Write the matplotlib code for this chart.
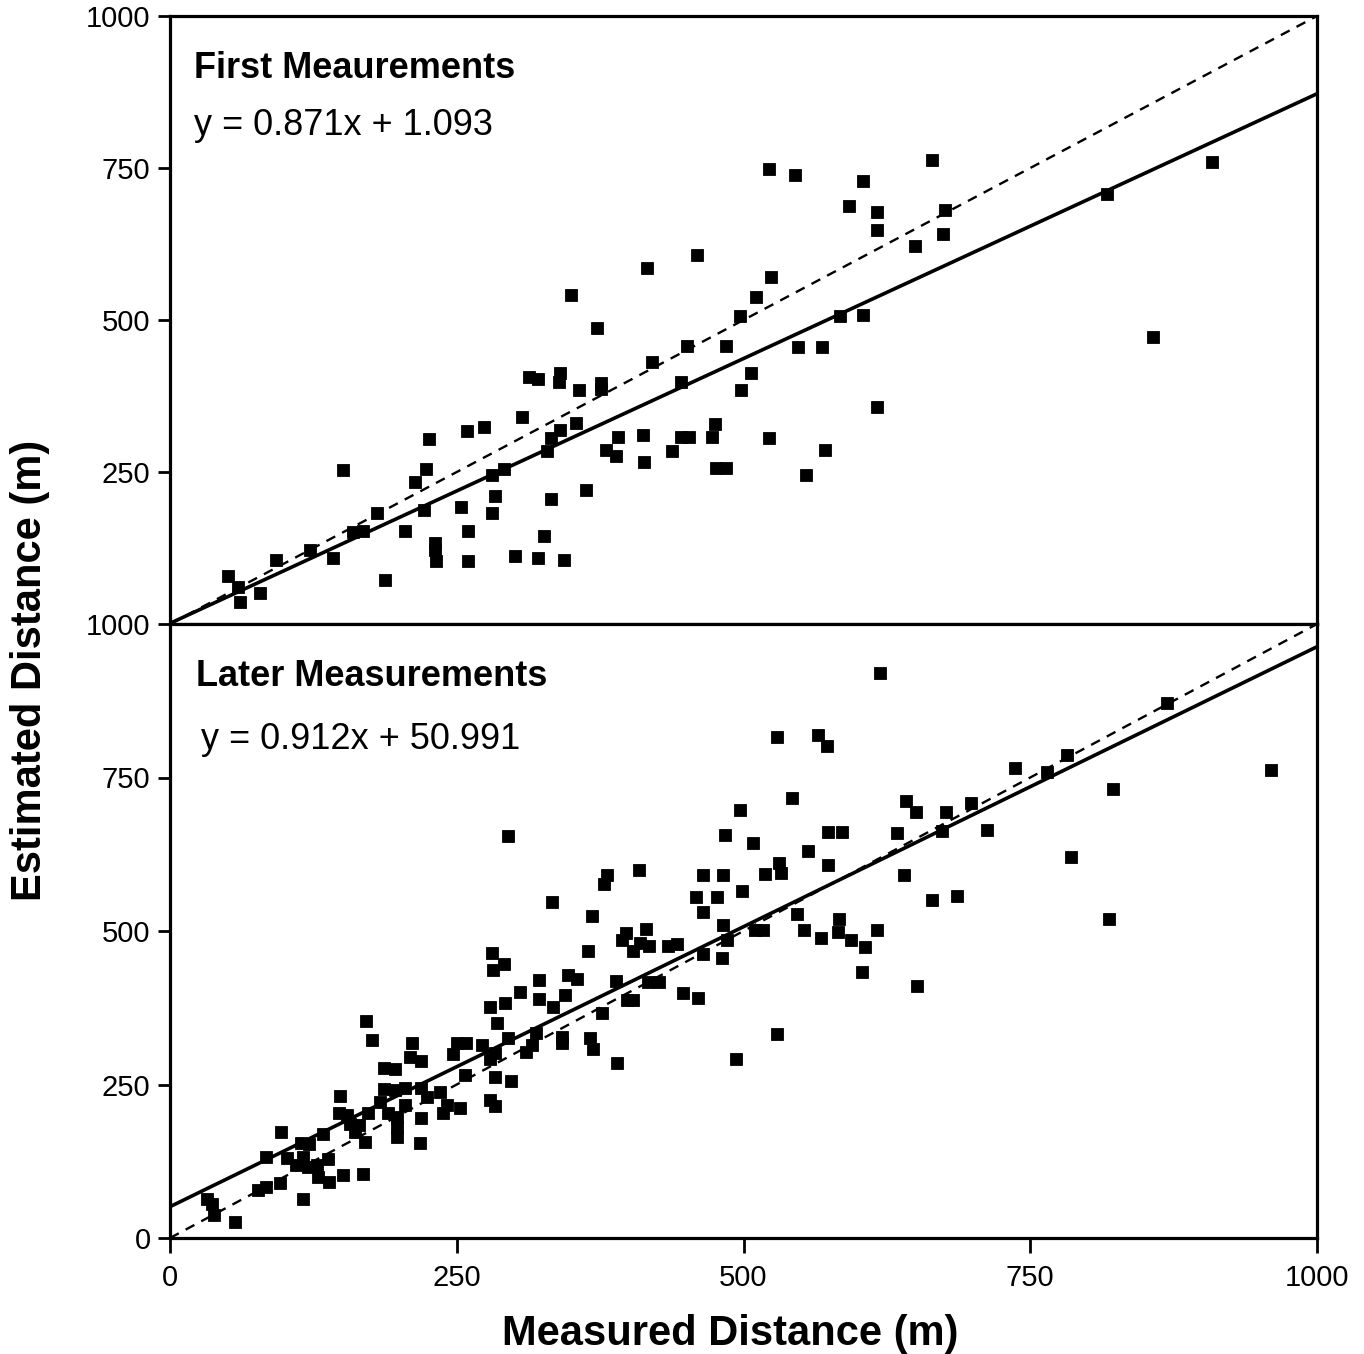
import matplotlib
matplotlib.use("Agg")
import matplotlib.pyplot as plt

plt.rcParams['font.family'] = ['Liberation Sans', 'DejaVu Sans']

# ---------------- data ----------------
first_x = [50.6, 59.3, 61, 78.5, 92.4, 122, 142, 150.8, 159.5, 168, 180.5, 187.4, 205, 213.6,
           221.4, 223, 225.8, 231, 231, 232, 253.7, 259, 259.8, 259.8, 273.8, 280.7, 283.3,
           280.7, 291, 300.8, 307, 313, 321, 321, 326, 328.7, 332, 332, 340, 339, 340, 343.5,
           349.6, 354, 356.6, 362.7, 372.3, 375.8, 375.8, 380, 389, 390.6, 412.4, 413, 415.9,
           420, 437.7, 445.5, 445.5, 452.5, 450.7, 459.5, 472.5, 475, 476, 484.7, 484.7, 497.8,
           497, 506.5, 511, 522, 522, 524, 545, 547.5, 554.5, 568.4, 571, 584, 592, 604, 604,
           616.4, 616.4, 616.4, 649.5, 664.3, 674, 675.7, 817, 857, 908.5]
first_y = [79, 61, 36, 51, 105, 122, 108.6, 253, 151, 153, 182.6, 72, 153, 233.6,
           187.5, 255, 304, 133, 122, 104, 192, 317, 153, 104, 324, 245, 210.5,
           182.6, 255, 112, 340, 406, 403, 108.6, 145, 284.5, 205.6, 306, 413, 398, 319, 105,
           541, 330.6, 385, 220, 487, 396, 386.5, 286, 276, 307.6, 311, 266.4, 585.5,
           431, 284.5, 398, 307.6, 307.6, 457, 607, 307.6, 329, 256.6, 256.6, 457, 385,
           506.6, 413, 538, 748, 306, 571, 738.5, 455.6, 245, 455.6, 286, 506.6, 687.5, 728.6, 508,
           677.6, 648, 357, 621.7, 763, 641.4, 681, 707, 472, 760]

later_x = [171, 176, 211, 209, 219, 187, 196, 187, 196, 205, 219, 224, 148, 183, 173, 147, 154,
           190, 198, 205, 219, 157, 165, 161, 198, 198, 170, 218, 97, 133, 114, 121, 84, 102,
           116, 110, 120, 128, 138, 129, 139, 151, 168, 77, 84, 96, 116, 32, 37, 38, 57,
           235.4, 241.2, 238.3, 252.8, 279, 283.3, 257.2, 283.3, 297, 250, 258, 247, 272.3,
           283.3, 279, 315.3, 310.4, 319, 295, 284.8, 279, 292, 305, 334, 322, 344.4, 322,
           346.7, 355, 341.5, 341.5, 366, 369, 377, 389.5, 389, 398, 404, 417, 426.6, 281,
           291, 282, 364.7, 367.6, 332.8, 378.4, 381.3, 397.6, 393.8, 404, 414.7, 409.8, 418,
           295,
           529, 564.7, 573, 542, 641.7, 650.4, 497, 484, 508, 574, 586, 634, 556, 531, 532.7,
           574, 518.7, 482.4, 464.4, 640, 409, 499, 458.6, 476.6, 464.4, 547, 583, 482.4,
           485.4, 510, 517, 553, 582, 568, 594, 606, 616, 603.6, 434.4, 441.8, 464.4, 481.5,
           447, 460.6, 529.5, 493.5, 651,
           619, 869, 736.7, 764.3, 781.8, 959.6, 822.4, 676.3, 698, 673.3, 712.6, 785.3,
           664, 686, 819]
later_y = [354, 323, 318, 294, 289, 277, 276, 243, 241, 244, 245, 230, 232, 222, 203, 203, 200,
           203, 197, 216, 195, 186, 184, 173, 181, 165, 157, 154, 173, 169, 155, 153, 132, 130,
           132, 119, 116, 119, 128, 100, 92, 102, 105, 78, 83, 89, 63, 63, 56, 37, 26,
           237, 216, 203, 211, 224, 215, 265, 262, 256, 317, 318, 300, 315,
           301, 291, 314, 303, 334, 325, 350, 377, 383, 400, 377, 390, 395, 421,
           428, 422, 327, 318, 325, 308, 366, 285, 418, 387, 387, 417, 417, 464,
           446, 437, 468, 525, 547, 576, 591, 496, 485, 467, 504, 481, 476,
           655,
           816, 819, 802, 717, 711, 694, 697, 657, 644, 662, 662, 660, 631, 610, 594,
           608, 593, 592, 592, 591, 600, 565, 556, 556, 531, 527, 520, 509,
           486, 501, 502, 502, 498, 488, 485, 474, 502, 433, 476, 479, 462, 456,
           399, 391, 332, 292, 410,
           920, 872, 765, 759, 787, 762, 731, 694, 708, 663, 665, 620,
           550, 557, 520]

first_fit = (0.871, 1.093)
later_fit = (0.912, 50.991)
first_title = "First Meaurements"
later_title = "Later Measurements"
first_eq = "y = 0.871x + 1.093"
later_eq = "y = 0.912x + 50.991"
x_ticks = [0, 250, 500, 750, 1000]
top_yticks = [250, 500, 750, 1000]
bottom_yticks = [0, 250, 500, 750, 1000]

# ---------------- figure ----------------
W, H = 1364, 1354
fig = plt.figure(figsize=(W / 100, H / 100), dpi=100)

left = 170 / W
width = (1317 - 170) / W
ax_top = fig.add_axes([left, 1 - 624 / H, width, (624 - 16) / H])
ax_bot = fig.add_axes([left, 1 - 1238 / H, width, (1238 - 624) / H])


def draw_panel(ax, xs, ys, fit, title, eq, eq_dx, title_dx, title_y, eq_y):
    line_x = [0, 1000]
    ax.plot(line_x, line_x, color='black', lw=1.7, ls=(0, (4.2, 3.3)), zorder=2,
            clip_on=False)
    ax.plot(line_x, [fit[0] * v + fit[1] for v in line_x], color='black', lw=2.6, zorder=2)
    ax.plot(xs, ys, ls='none', marker='s', ms=9.0, mfc='black', mec='black', mew=0.6, zorder=3)
    ax.set_xlim(0, 1000)
    ax.set_ylim(0, 1000)
    for s in ax.spines.values():
        s.set_linewidth(2.3)
    ax.text(title_dx, title_y, title, transform=ax.transAxes, fontsize=26,
            fontweight='bold', va='center', ha='left')
    ax.text(eq_dx, eq_y, eq, transform=ax.transAxes, fontsize=26,
            va='center', ha='left')
    ax.tick_params(axis='both', direction='out', length=9, width=2, labelsize=21,
                   pad=5)


draw_panel(ax_top, first_x, first_y, first_fit, first_title, first_eq,
           0.021, 0.021, 0.914, 0.820)
draw_panel(ax_bot, later_x, later_y, later_fit, later_title, later_eq,
           0.027, 0.023, 0.915, 0.812)

ax_top.set_yticks(top_yticks)
ax_top.set_xticks([])
ax_bot.set_yticks(bottom_yticks)
ax_bot.set_xticks(x_ticks)
ax_bot.tick_params(axis='x', length=11, pad=8)

fig.text(30 / W, 1 - 670 / H, "Estimated Distance (m)", rotation=90, fontsize=30,
         fontweight='bold', ha='center', va='center')
fig.text(730 / W, 1 - 1334 / H, "Measured Distance (m)", fontsize=30,
         fontweight='bold', ha='center', va='center')

fig.savefig("out.png", dpi=100, facecolor='white')
